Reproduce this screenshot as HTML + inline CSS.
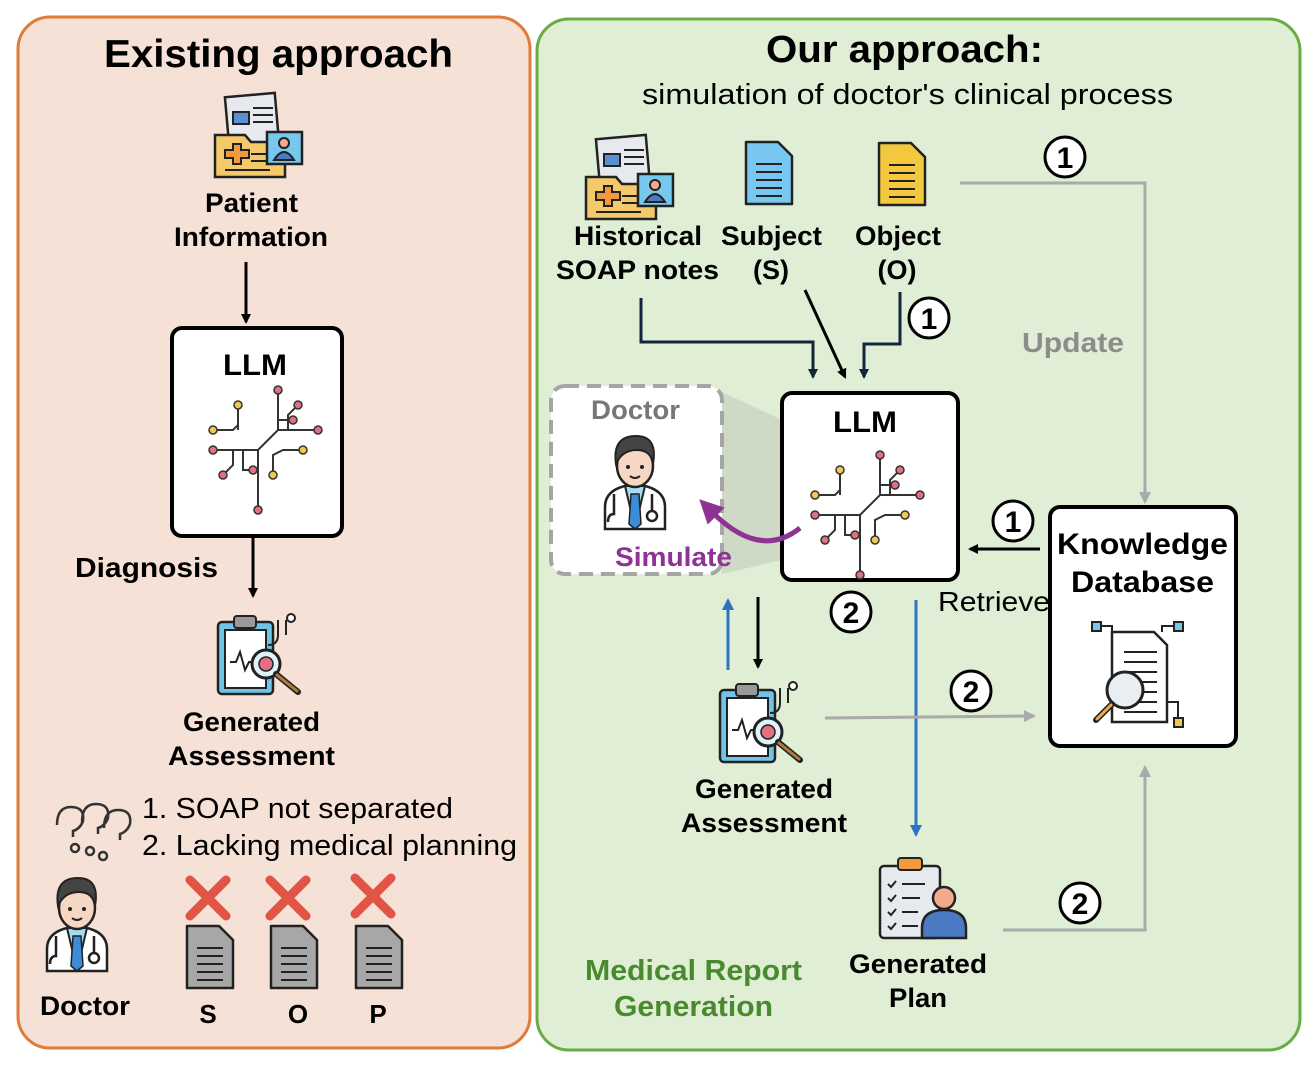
<!DOCTYPE html>
<html><head><meta charset="utf-8"><style>
html,body{margin:0;padding:0;background:#fff}
svg{display:block}
text{font-family:"Liberation Sans",Arial,sans-serif}
.b{font-weight:bold}
</style></head><body>
<svg width="1314" height="1070" viewBox="0 0 1314 1070" xmlns="http://www.w3.org/2000/svg">
<defs>
<marker id="ak" markerWidth="10" markerHeight="10" refX="8" refY="5" orient="auto" markerUnits="userSpaceOnUse"><path d="M0,0 L10,5 L0,10 z" fill="#000"/></marker>
<marker id="an" markerWidth="10" markerHeight="10" refX="8" refY="5" orient="auto" markerUnits="userSpaceOnUse"><path d="M0,0 L10,5 L0,10 z" fill="#12263a"/></marker>
<marker id="ag" markerWidth="12" markerHeight="12" refX="10" refY="6" orient="auto" markerUnits="userSpaceOnUse"><path d="M0,0 L12,6 L0,12 z" fill="#aaa"/></marker>
<marker id="ab" markerWidth="12" markerHeight="12" refX="10" refY="6" orient="auto" markerUnits="userSpaceOnUse"><path d="M0,0 L12,6 L0,12 z" fill="#2f74c0"/></marker>
<marker id="ap" markerWidth="24" markerHeight="24" refX="6" refY="12" orient="auto" markerUnits="userSpaceOnUse"><path d="M0,0 L24,12 L0,24 z" fill="#8e3394"/></marker>
<g id="circ" stroke="#333" stroke-width="2" fill="none">
<path d="M-45,0 H0 L20,-20 H60 M0,0 V60 M20,-20 V-60 M20,-30 H35 M30,-20 V-35 L40,-45 M-20,-20 V-45 M-45,-20 H-25 L-20,-25 M-25,0 V15 L-35,25 M-15,0 V20 H-5 M15,25 V5 L25,0 H45"/>
<g stroke-width="1.5"><circle cx="-45" cy="0" r="4" fill="#e27080"/><circle cx="20" cy="-60" r="4" fill="#e27080"/><circle cx="35" cy="-30" r="4" fill="#e27080"/><circle cx="40" cy="-45" r="4" fill="#e27080"/><circle cx="60" cy="-20" r="4" fill="#e27080"/><circle cx="-20" cy="-45" r="4" fill="#f3c94a"/><circle cx="-45" cy="-20" r="4" fill="#f3c94a"/><circle cx="-35" cy="25" r="4" fill="#e27080"/><circle cx="-5" cy="20" r="4" fill="#e27080"/><circle cx="0" cy="60" r="4" fill="#e27080"/><circle cx="15" cy="25" r="4" fill="#f3c94a"/><circle cx="45" cy="0" r="4" fill="#f3c94a"/></g>
</g>
<g id="doc"><path d="M0,0 H32 L46,14 V62 H0 Z" stroke="#222" stroke-width="2.5" stroke-linejoin="round"/><path d="M10,22H36M10,30H36M10,38H36M10,46H36M10,54H36" stroke="#222" stroke-width="2"/></g>
<g id="hist">
<rect x="12" y="5" width="50" height="50" fill="#e6e9ee" stroke="#222" stroke-width="2.5" transform="rotate(-5 37 30)"/>
<rect x="18" y="22" width="16" height="12" fill="#5b8fd1" stroke="#222" stroke-width="2"/>
<path d="M38,18H58M38,25H58M38,32H58" stroke="#222" stroke-width="2"/>
<path d="M0,45 H30 L36,52 H70 V87 H0 Z" fill="#f3c96a" stroke="#222" stroke-width="2.5"/>
<path d="M10,60h8v-6h8v6h8v8h-8v6h-8v-6h-8z" fill="#f29a3c" stroke="#222" stroke-width="2"/>
<path d="M36,64H52M36,71H52M10,80H55" stroke="#222" stroke-width="2"/>
<rect x="52" y="42" width="35" height="32" fill="#78c7ec" stroke="#222" stroke-width="2.5"/>
<circle cx="69" cy="53" r="5" fill="#f4a98c" stroke="#222" stroke-width="2"/><path d="M59,70 q10,-16 20,0z" fill="#4a7bc2" stroke="#222" stroke-width="2"/>
</g>
<g id="assess">
<rect x="0" y="10" width="55" height="72" rx="4" fill="#6fc4e8" stroke="#222" stroke-width="2.5"/>
<rect x="7" y="18" width="41" height="58" fill="#fff" stroke="#222" stroke-width="2"/>
<rect x="16" y="4" width="22" height="12" rx="3" fill="#999" stroke="#222" stroke-width="2"/>
<path d="M12,50 l6,0 4,-10 5,18 4,-8 6,0" fill="none" stroke="#222" stroke-width="2"/>
<path d="M60,8 v15 q0,10 -10,10 M68,8 v15" fill="none" stroke="#222" stroke-width="2"/><circle cx="73" cy="6" r="4" fill="#fff" stroke="#222" stroke-width="2"/>
<circle cx="48" cy="52" r="14" fill="#dff3fb" stroke="#222" stroke-width="3"/><circle cx="48" cy="52" r="7" fill="#e27080" stroke="#222" stroke-width="1.5"/>
<path d="M58,62 L80,80" stroke="#222" stroke-width="6" stroke-linecap="round"/><path d="M59,63 L79,79" stroke="#b07a3c" stroke-width="3" stroke-linecap="round"/>
</g>
<g id="doctor">
<path d="M5,95 v-22 q0,-18 25,-22 h10 q25,4 25,22 v22z" fill="#fff" stroke="#222" stroke-width="2.5"/>
<path d="M25,52 l10,42 l10,-42z" fill="#a6dcf1" stroke="#222" stroke-width="2"/>
<path d="M31,60 h8 l2,30 -6,5 -6,-5z" fill="#3b8dd8" stroke="#222" stroke-width="1.5"/>
<ellipse cx="35" cy="32" rx="18" ry="21" fill="#f6d7c4" stroke="#222" stroke-width="2.5"/>
<path d="M16,30 q-4,-28 20,-28 q22,0 17,28 q-2,-14 -16,-14 q-15,0 -21,14z" fill="#444" stroke="#222" stroke-width="2"/>
<circle cx="28" cy="33" r="2" fill="#222"/><circle cx="42" cy="33" r="2" fill="#222"/><path d="M30,42 q5,4 10,0" fill="none" stroke="#222" stroke-width="2"/>
<path d="M14,60 v20 q-6,0 -6,8 M52,60 v18" fill="none" stroke="#222" stroke-width="2.5"/><circle cx="52" cy="82" r="5" fill="#fff" stroke="#222" stroke-width="2.5"/>
</g>
<g id="kb">
<path d="M20,10 H62 L75,23 V100 H20 Z" fill="#fff" stroke="#222" stroke-width="2.5"/>
<path d="M32,30H65M32,40H65M32,50H65M45,60H65M45,70H65M45,80H65M32,90H65" stroke="#222" stroke-width="2"/>
<circle cx="33" cy="68" r="18" fill="#e9eef3" stroke="#222" stroke-width="3"/>
<path d="M20,82 L4,98" stroke="#222" stroke-width="6" stroke-linecap="round"/><path d="M19,83 L5,97" stroke="#f3a948" stroke-width="3" stroke-linecap="round"/>
<rect x="0" y="0" width="9" height="9" fill="#78c7ec" stroke="#222" stroke-width="2"/><rect x="82" y="0" width="9" height="9" fill="#78c7ec" stroke="#222" stroke-width="2"/><rect x="82" y="96" width="9" height="9" fill="#f3c94a" stroke="#222" stroke-width="2"/>
<path d="M9,4 H20 V10 M82,4 H70 V10 M86,96 V80 H75" fill="none" stroke="#222" stroke-width="2"/>
</g>
<g id="plan">
<rect x="0" y="10" width="60" height="72" rx="4" fill="#e6e9ee" stroke="#222" stroke-width="2.5"/>
<rect x="18" y="2" width="24" height="12" rx="3" fill="#f29a3c" stroke="#222" stroke-width="2"/>
<path d="M8,28 l3,3 5,-6 M22,28H45 M8,42 l3,3 5,-6 M22,42H40 M8,56 l3,3 5,-6 M22,56H38 M8,70 l3,3 5,-6 M22,70H38" fill="none" stroke="#222" stroke-width="2"/>
<circle cx="64" cy="42" r="11" fill="#f4a98c" stroke="#222" stroke-width="2.5"/>
<path d="M42,82 v-10 q0,-18 22,-18 q22,0 22,18 v10z" fill="#4a7bc2" stroke="#222" stroke-width="2.5"/>
</g>
</defs>

<!-- Left panel -->
<rect x="18" y="17" width="512" height="1031" rx="32" fill="#f5e1d5" stroke="#e07b39" stroke-width="3"/>
<text x="104" y="67" font-size="39" class="b" textLength="349" lengthAdjust="spacingAndGlyphs">Existing approach</text>
<use href="#hist" x="215" y="90"/>
<text x="205" y="212" font-size="27" class="b" textLength="93" lengthAdjust="spacingAndGlyphs">Patient</text>
<text x="174" y="246" font-size="27" class="b" textLength="154" lengthAdjust="spacingAndGlyphs">Information</text>
<line x1="246" y1="262" x2="246" y2="322" stroke="#000" stroke-width="3" marker-end="url(#ak)"/>
<rect x="172" y="328" width="170" height="208" rx="10" fill="#fff" stroke="#000" stroke-width="4"/>
<text x="223" y="375" font-size="30" class="b" textLength="64" lengthAdjust="spacingAndGlyphs">LLM</text>
<use href="#circ" x="258" y="450"/>
<text x="75" y="577" font-size="28" class="b" textLength="143" lengthAdjust="spacingAndGlyphs">Diagnosis</text>
<line x1="253" y1="538" x2="253" y2="596" stroke="#000" stroke-width="3" marker-end="url(#ak)"/>
<use href="#assess" x="218" y="612"/>
<text x="183" y="731" font-size="27" class="b" textLength="137" lengthAdjust="spacingAndGlyphs">Generated</text>
<text x="168" y="765" font-size="27" class="b" textLength="167" lengthAdjust="spacingAndGlyphs">Assessment</text>
<g fill="none" stroke="#333" stroke-width="2.5">
<path d="M57,825 q0,-18 14,-18 q14,0 12,14 q-3,8 -10,10 v6"/><path d="M82,822 q0,-18 14,-18 q14,0 12,14 q-3,8 -10,10 v6"/><path d="M104,828 q0,-18 14,-18 q14,0 12,14 q-3,8 -10,10 v6"/>
<circle cx="75" cy="848" r="4"/><circle cx="90" cy="851" r="4"/><circle cx="103" cy="856" r="4"/>
</g>
<text x="142" y="818" font-size="29" textLength="311" lengthAdjust="spacingAndGlyphs">1. SOAP not separated</text>
<text x="142" y="855" font-size="29" textLength="375" lengthAdjust="spacingAndGlyphs">2. Lacking medical planning</text>
<use href="#doctor" x="42" y="876"/>
<text x="40" y="1015" font-size="27" class="b" textLength="90" lengthAdjust="spacingAndGlyphs">Doctor</text>
<g stroke="#e05545" stroke-width="9" stroke-linecap="round">
<path d="M190,880 l36,36 M226,880 l-36,36"/><path d="M270,880 l36,36 M306,880 l-36,36"/><path d="M355,878 l36,36 M391,878 l-36,36"/>
</g>
<use href="#doc" x="187" y="926" fill="#a7a7a7"/><use href="#doc" x="271" y="926" fill="#a7a7a7"/><use href="#doc" x="356" y="926" fill="#a7a7a7"/>
<text x="208" y="1023" font-size="26" class="b" text-anchor="middle">S</text>
<text x="298" y="1023" font-size="26" class="b" text-anchor="middle">O</text>
<text x="378" y="1023" font-size="26" class="b" text-anchor="middle">P</text>

<!-- Right panel -->
<rect x="537" y="19" width="763" height="1031" rx="32" fill="#dfeed5" stroke="#6aac44" stroke-width="3"/>
<text x="766" y="62" font-size="38" class="b" textLength="277" lengthAdjust="spacingAndGlyphs">Our approach:</text>
<text x="642" y="104" font-size="29" textLength="531" lengthAdjust="spacingAndGlyphs">simulation of doctor's clinical process</text>
<use href="#hist" x="586" y="132"/>
<use href="#doc" x="746" y="142" fill="#78c7f0"/>
<use href="#doc" x="879" y="143" fill="#f3c83f"/>
<text x="574" y="245" font-size="27" class="b" textLength="128" lengthAdjust="spacingAndGlyphs">Historical</text>
<text x="556" y="279" font-size="27" class="b" textLength="163" lengthAdjust="spacingAndGlyphs">SOAP notes</text>
<text x="721" y="245" font-size="27" class="b" textLength="101" lengthAdjust="spacingAndGlyphs">Subject</text>
<text x="771" y="279" font-size="27" class="b" text-anchor="middle">(S)</text>
<text x="855" y="245" font-size="27" class="b" textLength="86" lengthAdjust="spacingAndGlyphs">Object</text>
<text x="897" y="279" font-size="27" class="b" text-anchor="middle">(O)</text>

<polyline points="960,183 1145,183 1145,502" fill="none" stroke="#aaa" stroke-width="3" marker-end="url(#ag)"/>
<text x="1022" y="352" font-size="28" class="b" fill="#8c8c8c" textLength="102" lengthAdjust="spacingAndGlyphs">Update</text>
<polyline points="641,298 641,342 813,342 813,377" fill="none" stroke="#12263a" stroke-width="3" marker-end="url(#an)"/>
<line x1="805" y1="290" x2="845" y2="377" stroke="#000" stroke-width="3" marker-end="url(#ak)"/>
<polyline points="900,292 900,344 864,344 864,377" fill="none" stroke="#12263a" stroke-width="3" marker-end="url(#an)"/>

<!-- doctor simulate -->
<polygon points="722,392 782,420 782,560 722,574" fill="#cfdac6"/>
<rect x="551" y="386" width="171" height="188" rx="14" fill="#fff" stroke="#a5a5a5" stroke-width="4" stroke-dasharray="14,8"/>
<text x="591" y="419" font-size="27" class="b" fill="#777" textLength="89" lengthAdjust="spacingAndGlyphs">Doctor</text>
<use href="#doctor" x="600" y="434"/>
<rect x="782" y="393" width="176" height="187" rx="10" fill="#fff" stroke="#000" stroke-width="4"/>
<text x="833" y="432" font-size="30" class="b" textLength="64" lengthAdjust="spacingAndGlyphs">LLM</text>
<use href="#circ" x="860" y="515"/>
<path d="M800,528 Q760,560 712,512" fill="none" stroke="#8e3394" stroke-width="5" marker-end="url(#ap)"/>
<text x="615" y="566" font-size="27" class="b" fill="#8e3394" textLength="117" lengthAdjust="spacingAndGlyphs">Simulate</text>

<rect x="1050" y="507" width="186" height="239" rx="10" fill="#fff" stroke="#000" stroke-width="4"/>
<text x="1057" y="554" font-size="30" class="b" textLength="171" lengthAdjust="spacingAndGlyphs">Knowledge</text>
<text x="1071" y="592" font-size="30" class="b" textLength="143" lengthAdjust="spacingAndGlyphs">Database</text>
<use href="#kb" x="1092" y="622"/>
<line x1="1040" y1="549" x2="970" y2="549" stroke="#000" stroke-width="3" marker-end="url(#ak)"/>
<text x="938" y="611" font-size="28" textLength="112" lengthAdjust="spacingAndGlyphs">Retrieve</text>

<line x1="728" y1="670" x2="728" y2="600" stroke="#2f74c0" stroke-width="3" marker-end="url(#ab)"/>
<line x1="758" y1="597" x2="758" y2="667" stroke="#000" stroke-width="3" marker-end="url(#ak)"/>
<line x1="916" y1="600" x2="916" y2="835" stroke="#2f74c0" stroke-width="3" marker-end="url(#ab)"/>
<use href="#assess" x="720" y="680"/>
<text x="695" y="798" font-size="27" class="b" textLength="138" lengthAdjust="spacingAndGlyphs">Generated</text>
<text x="681" y="832" font-size="27" class="b" textLength="166" lengthAdjust="spacingAndGlyphs">Assessment</text>
<line x1="825" y1="718" x2="1034" y2="716" stroke="#aaa" stroke-width="3" marker-end="url(#ag)"/>
<use href="#plan" x="880" y="856"/>
<text x="849" y="973" font-size="27" class="b" textLength="138" lengthAdjust="spacingAndGlyphs">Generated</text>
<text x="889" y="1007" font-size="27" class="b" textLength="58" lengthAdjust="spacingAndGlyphs">Plan</text>
<polyline points="1003,930 1145,930 1145,767" fill="none" stroke="#aaa" stroke-width="3" marker-end="url(#ag)"/>
<text x="585" y="980" font-size="29" class="b" fill="#4a8a2e" textLength="217" lengthAdjust="spacingAndGlyphs">Medical Report</text>
<text x="614" y="1016" font-size="29" class="b" fill="#4a8a2e" textLength="159" lengthAdjust="spacingAndGlyphs">Generation</text>

<!-- circled numbers -->
<g fill="#fff" stroke="#000" stroke-width="3">
<circle cx="1065" cy="157" r="20"/><circle cx="929" cy="318" r="20"/><circle cx="1013" cy="521" r="20"/>
<circle cx="851" cy="612" r="20"/><circle cx="971" cy="691" r="20"/><circle cx="1080" cy="903" r="20"/>
</g>
<g font-size="30" class="b" text-anchor="middle">
<text x="1065" y="168">1</text><text x="929" y="329">1</text><text x="1013" y="532">1</text>
<text x="851" y="623">2</text><text x="971" y="702">2</text><text x="1080" y="914">2</text>
</g>
</svg>
</body></html>
